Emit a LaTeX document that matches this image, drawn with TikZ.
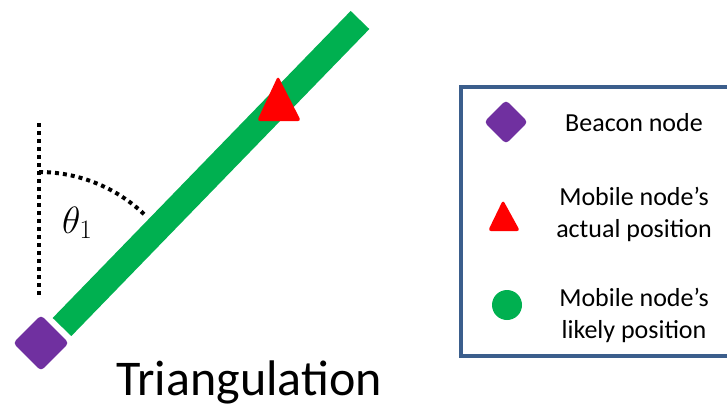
\RequirePackage{fix-cm}
\documentclass[tikz,border=0pt]{standalone}
\usepackage{fontspec}
\setmainfont{Carlito}
\usetikzlibrary{shapes.geometric}
\definecolor{beacon}{HTML}{7030A0}
\definecolor{likely}{HTML}{00B050}
\definecolor{actual}{HTML}{FF0000}
\definecolor{frame}{HTML}{3B5E8C}
\tikzset{
  beaconmark/.style={diamond, fill=beacon, draw=none, inner sep=0pt, rounded corners=4pt},
  actualmark/.style={fill=actual, draw=none, rounded corners=3pt},
  likelymark/.style={circle, fill=likely, draw=none, inner sep=0pt, minimum size=30pt},
  dotline/.style={line width=4pt, dash pattern=on 4pt off 4pt, black},
  legendtext/.style={font=\fontsize{26}{32}\selectfont, align=center},
  rangebar/.style={line width=26pt, likely, line cap=butt}
}
\begin{document}
\begin{tikzpicture}[x=1pt,y=-1pt]
\useasboundingbox (0,0) rectangle (727,408);

% bearing line from the beacon
\coordinate (barA) at (62,327);
\coordinate (barB) at (360,20);
\draw[rangebar] (barA) -- (barB);

% reference direction and measured angle
\coordinate (vtop) at (39,123);
\coordinate (vbot) at (39,298);
\draw[dotline] (vtop) -- (vbot);
\draw[dotline] (39,172) arc[start angle=-90, end angle=-45, radius=152];
\node[anchor=base west, inner sep=0pt, font=\fontsize{38}{40}\selectfont] (theta) at (62,233) {$\theta_1$};

% beacon and mobile node
\node[beaconmark, minimum size=56pt] (beacon) at (41,343) {};
\draw[actualmark] (278,76) -- (301,121) -- (257,121) -- cycle;

% title
\node[anchor=base, inner sep=0pt, font=\fontsize{50}{52}\selectfont] (title) at (249,395) {Triangulation};

% legend
\draw[frame, line width=3.5pt] (461,87) rectangle (740,356);
\node[beaconmark, minimum size=44pt] (lbeacon) at (506,122) {};
\draw[actualmark] (503,200) -- (520,231) -- (488,231) -- cycle;
\node[likelymark] (llikely) at (507,305) {};
\node[legendtext] (tbeacon) at (634,123) {Beacon node};
\node[legendtext] (tactual) at (634,214) {Mobile node’s\\actual position};
\node[legendtext] (tlikely) at (634,315) {Mobile node’s\\likely position};
\end{tikzpicture}
\end{document}
